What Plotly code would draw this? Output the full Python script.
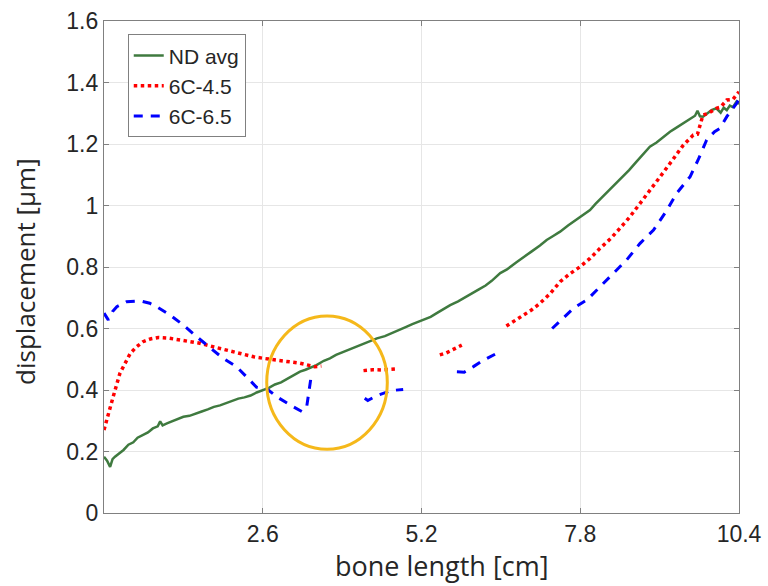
import plotly.graph_objects as go

# ---------------- data ----------------
nd_x = [0.00, 0.05, 0.10, 0.14, 0.18, 0.25, 0.32, 0.40, 0.48, 0.55, 0.64, 0.72, 0.80, 0.88,
        0.92, 0.96, 1.04, 1.12, 1.20, 1.30, 1.40, 1.50, 1.60, 1.70, 1.80, 1.90, 2.00, 2.12,
        2.20, 2.30, 2.40, 2.50, 2.60, 2.70, 2.80, 2.90, 3.00, 3.10, 3.21, 3.30, 3.40, 3.48,
        3.60, 3.70, 3.80, 3.90, 4.00, 4.10, 4.20, 4.30, 4.40, 4.47, 4.60, 4.70, 4.85, 4.95,
        5.05, 5.15, 5.23, 5.35, 5.45, 5.55, 5.67, 5.80, 5.94, 6.05, 6.14, 6.25, 6.35, 6.49,
        6.60, 6.75, 6.90, 7.00, 7.14, 7.25, 7.35, 7.47, 7.60, 7.74, 7.85, 7.96, 8.05, 8.15,
        8.25, 8.40, 8.50, 8.60, 8.70, 8.80, 8.94, 9.05, 9.15, 9.27, 9.35, 9.45, 9.54, 9.62,
        9.68, 9.72, 9.76, 9.81, 9.88, 9.95, 10.03, 10.10, 10.15, 10.20, 10.25, 10.30, 10.36, 10.40]
nd_y = [0.183, 0.170, 0.150, 0.175, 0.183, 0.195, 0.205, 0.222, 0.230, 0.245, 0.254, 0.262, 0.275, 0.282,
        0.298, 0.285, 0.292, 0.298, 0.305, 0.313, 0.316, 0.322, 0.330, 0.337, 0.345, 0.350, 0.358, 0.367,
        0.372, 0.376, 0.382, 0.392, 0.400, 0.407, 0.418, 0.425, 0.436, 0.447, 0.460, 0.466, 0.475, 0.481,
        0.495, 0.503, 0.514, 0.522, 0.532, 0.538, 0.548, 0.555, 0.563, 0.568, 0.575, 0.583, 0.595, 0.605,
        0.614, 0.622, 0.628, 0.638, 0.650, 0.662, 0.676, 0.688, 0.703, 0.715, 0.727, 0.740, 0.755, 0.780,
        0.792, 0.815, 0.835, 0.850, 0.870, 0.888, 0.900, 0.915, 0.935, 0.955, 0.970, 0.985, 1.005, 1.025,
        1.042, 1.072, 1.092, 1.115, 1.138, 1.160, 1.191, 1.205, 1.222, 1.240, 1.250, 1.262, 1.273, 1.282,
        1.292, 1.308, 1.290, 1.289, 1.300, 1.310, 1.316, 1.302, 1.318, 1.310, 1.325, 1.320, 1.338, 1.330]

c45_x = [0.00, 0.08, 0.15, 0.26, 0.35, 0.43, 0.53, 0.64, 0.76, 0.89, 1.05, 1.19, 1.40, 1.57, 1.80,
         2.00, 2.12, 2.30, 2.45, 2.61, 2.80, 2.94, 3.10, 3.21, 3.35, 3.45, 3.56, None,
         4.25, 4.40, 4.55, 4.70, 4.82, None,
         5.50, 5.60, 5.70, 5.86, None,
         6.59, 6.70, 6.81, 7.00, 7.14, 7.31, 7.47, 7.63, 7.80, 7.96, 8.12, 8.30, 8.45, 8.60, 8.78,
         8.95, 9.11, 9.30, 9.49, 9.65, 9.72, 9.81, 9.90, 10.03, 10.10, 10.20, 10.30, 10.40]
c45_y = [0.270, 0.330, 0.378, 0.454, 0.490, 0.519, 0.540, 0.557, 0.566, 0.571, 0.569, 0.565, 0.558, 0.552, 0.540,
         0.530, 0.525, 0.516, 0.508, 0.503, 0.498, 0.497, 0.490, 0.487, 0.482, 0.476, 0.478, None,
         0.463, 0.466, 0.465, 0.468, 0.469, None,
         0.514, 0.520, 0.530, 0.546, None,
         0.608, 0.622, 0.633, 0.660, 0.682, 0.714, 0.752, 0.778, 0.801, 0.828, 0.860, 0.893, 0.926, 0.960, 1.007,
         1.050, 1.094, 1.145, 1.197, 1.229, 1.232, 1.294, 1.300, 1.316, 1.320, 1.343, 1.345, 1.370]

c65_x = [0.00, 0.07, 0.14, 0.21, 0.37, 0.59, 0.75, 0.86, 1.08, 1.30, 1.52, 1.74, 1.95, 2.17, 2.34,
         2.50, 2.66, 2.83, 3.05, 3.24, 3.32, 3.37, 3.40, None,
         4.27, 4.32, 4.45, 4.57, 4.70, 4.90, None,
         5.78, 5.90, 6.05, 6.20, 6.43, None,
         7.34, 7.50, 7.69, 7.91, 8.12, 8.35, 8.56, 8.78, 9.00, 9.22, 9.38, 9.60, 9.73, 9.87,
         10.00, 10.09, 10.20, 10.36, 10.40]
c65_y = [0.650, 0.628, 0.655, 0.671, 0.687, 0.690, 0.682, 0.671, 0.644, 0.611, 0.573, 0.536, 0.503, 0.476, 0.443,
         0.409, 0.405, 0.378, 0.351, 0.330, 0.346, 0.405, 0.454, None,
         0.373, 0.366, 0.380, 0.389, 0.398, 0.402, None,
         0.459, 0.458, 0.476, 0.495, 0.519, None,
         0.600, 0.630, 0.666, 0.693, 0.736, 0.780, 0.823, 0.877, 0.920, 0.985, 1.040, 1.094, 1.148, 1.213,
         1.240, 1.251, 1.289, 1.332, 1.345]

series_names = ["ND avg", "6C-4.5", "6C-6.5"]
x_title = "bone length [cm]"
y_title = "displacement [μm]"
x_tick_vals = [2.6, 5.2, 7.8, 10.4]
x_tick_text = ["2.6", "5.2", "7.8", "10.4"]
y_tick_vals = [0, 0.2, 0.4, 0.6, 0.8, 1.0, 1.2, 1.4, 1.6]
y_tick_text = ["0", "0.2", "0.4", "0.6", "0.8", "1", "1.2", "1.4", "1.6"]

# highlighted region (ellipse) in data units
ell_x = [2.665, 4.64]
ell_y = [0.207, 0.641]

# ---------------- figure ----------------
fig = go.Figure()
fig.add_trace(go.Scatter(x=nd_x, y=nd_y, mode="lines", name=series_names[0],
                         line=dict(color="#3F7A3F", width=2.5)))
fig.add_trace(go.Scatter(x=c45_x, y=c45_y, mode="lines", name=series_names[1],
                         line=dict(color="#FF0000", width=3.5, dash="3.5px,3.5px"),
                         connectgaps=False))
fig.add_trace(go.Scatter(x=c65_x, y=c65_y, mode="lines", name=series_names[2],
                         line=dict(color="#0000FF", width=3, dash="9px,8px"),
                         connectgaps=False))

fig.add_shape(type="circle", xref="x", yref="y",
              x0=ell_x[0], x1=ell_x[1], y0=ell_y[0], y1=ell_y[1],
              line=dict(color="#F5B81A", width=3))

axis_common = dict(showline=True, linecolor="#808080", linewidth=1.2, mirror="ticks",
                   ticks="inside", ticklen=5, tickcolor="#808080",
                   showgrid=True, gridcolor="#E6E6E6", gridwidth=1, zeroline=False,
                   tickfont=dict(family="Liberation Sans, Arial", size=23, color="#262626"))

fig.update_xaxes(range=[0, 10.4], tickvals=x_tick_vals, ticktext=x_tick_text, **axis_common)
fig.update_yaxes(range=[0, 1.6], tickvals=y_tick_vals, ticktext=y_tick_text, **axis_common)

# axis titles (placed as in the reference)
fig.add_annotation(text=x_title, xref="paper", yref="paper", x=0.531, y=-0.1077,
                   xanchor="center", yanchor="middle", showarrow=False,
                   font=dict(family="Open Sans", size=27, color="#262626"))
fig.add_annotation(text=y_title, xref="paper", yref="paper", x=-0.1244, y=0.49,
                   xanchor="center", yanchor="middle", showarrow=False, textangle=-90,
                   font=dict(family="Open Sans", size=26, color="#262626"))

fig.update_layout(
    width=768, height=586,
    margin=dict(l=104, r=29, t=21, b=73, autoexpand=False),
    paper_bgcolor="white", plot_bgcolor="white",
    legend=dict(x=0.0374, y=0.973, xanchor="left", yanchor="top",
                bgcolor="white", bordercolor="#808080", borderwidth=1,
                font=dict(family="Liberation Sans, Arial", size=21, color="#262626"),
                tracegroupgap=0, itemwidth=30),
    showlegend=True,
)

fig.write_html("out.html")
